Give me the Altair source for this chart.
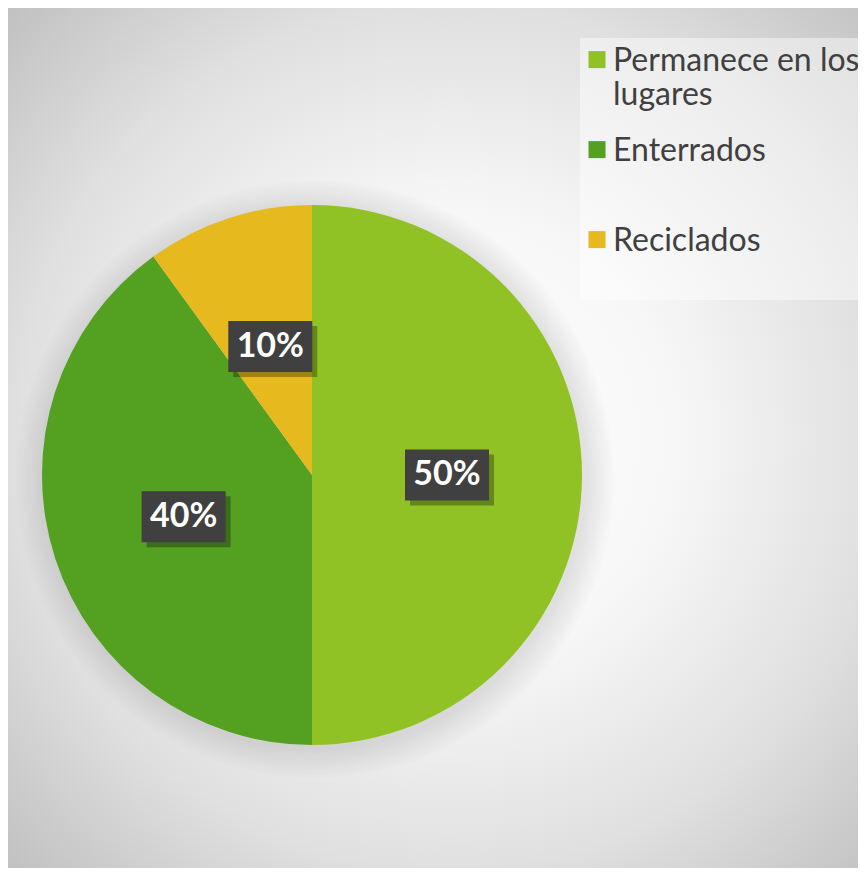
import math
import altair as alt
import pandas as pd

# ---- data ----
categories = ["Permanece en los lugares", "Enterrados", "Reciclados"]
values = [50, 40, 10]
colors = ["#90C226", "#54A021", "#E6B91E"]

# ---- layout ----
W, H = 850, 860
CX, CY, R = 304, 467, 270
BOX_W, BOX_H = 84, 51
FONT = "Lato"

df = pd.DataFrame({"cat": categories, "v": values, "ord": list(range(len(values)))})
one = pd.DataFrame({"a": [0]})

bg_grad = {
    "gradient": "radial",
    "x1": 0.52, "y1": 0.5, "r1": 0,
    "x2": 0.52, "y2": 0.5, "r2": 0.75,
    "stops": [
        {"offset": 0, "color": "#ffffff"},
        {"offset": 0.35, "color": "#f7f7f7"},
        {"offset": 0.667, "color": "#e0e0e0"},
        {"offset": 1, "color": "#bcbcbc"},
    ],
}
bg = alt.Chart(one).mark_rect(fill=bg_grad).encode(
    x=alt.value(0), x2=alt.value(W), y=alt.value(0), y2=alt.value(H)
)

# legend background panel
legend_panel = alt.Chart(one).mark_rect(fill="rgba(255,255,255,0.45)").encode(
    x=alt.value(572), x2=alt.value(W), y=alt.value(30), y2=alt.value(292)
)

halo_grad = {
    "gradient": "radial",
    "x1": 0.5, "y1": 0.5, "r1": 0,
    "x2": 0.5, "y2": 0.5, "r2": 0.5,
    "stops": [
        {"offset": 0, "color": "rgba(0,0,0,0.12)"},
        {"offset": 0.9, "color": "rgba(0,0,0,0.10)"},
        {"offset": 1, "color": "rgba(0,0,0,0)"},
    ],
}
halo = alt.Chart(one).mark_arc(radius=300, theta=0, theta2=2 * math.pi, fill=halo_grad).encode(
    x=alt.value(CX + 3), y=alt.value(CY + 4)
)

sym = "M-1,0.6L1,0.6L1,2.6L-1,2.6Z"
legend = alt.Legend(
    title=None, orient="none", legendX=573, legendY=22,
    symbolType=sym, symbolSize=289, symbolStrokeWidth=0,
    labelFont=FONT, labelFontSize=32, labelColor="#404040",
    labelLimit=600, labelOffset=0, labelBaseline="top",
    rowPadding=9, padding=0,
    labelExpr="datum.label == 'Permanece en los lugares' ? ['Permanece en los', 'lugares'] : [datum.label, '']",
)

pie = alt.Chart(df).mark_arc(radius=R, stroke=None).encode(
    theta=alt.Theta("v:Q", stack=True),
    color=alt.Color("cat:N", scale=alt.Scale(domain=categories, range=colors), legend=legend, sort=categories),
    order=alt.Order("ord:Q"),
    x=alt.value(CX), y=alt.value(CY),
)

lab = alt.Chart(df).transform_window(
    cum="sum(v)", sort=[alt.SortField("ord")]
).transform_joinaggregate(total="sum(v)").transform_calculate(
    mid="(datum.cum - datum.v/2) / datum.total * 2 * PI",
    lx=f"{CX} + {R/2} * sin(datum.mid)",
    ly=f"{CY} - {R/2} * cos(datum.mid)",
    x1=f"datum.lx - {BOX_W/2}", x2=f"datum.lx + {BOX_W/2}",
    y1=f"datum.ly - {BOX_H/2}", y2=f"datum.ly + {BOX_H/2}",
    sx1="datum.x1 + 5", sx2="datum.x2 + 5", sy1="datum.y1 + 5", sy2="datum.y2 + 5",
    txt="datum.v + '%'",
)

shadow = lab.mark_rect(color="#000000", opacity=0.3).encode(
    x=alt.X("sx1:Q", scale=None, axis=None), x2="sx2:Q",
    y=alt.Y("sy1:Q", scale=None, axis=None), y2="sy2:Q",
)
boxes = lab.mark_rect(color="#404040").encode(
    x=alt.X("x1:Q", scale=None, axis=None), x2="x2:Q",
    y=alt.Y("y1:Q", scale=None, axis=None), y2="y2:Q",
)
texts = lab.mark_text(font=FONT, fontSize=34, fontWeight="bold", color="#ffffff", baseline="middle").encode(
    x=alt.X("lx:Q", scale=None, axis=None),
    y=alt.Y("ly:Q", scale=None, axis=None),
    text="txt:N",
)

chart = alt.layer(bg, legend_panel, halo, pie, shadow, boxes, texts).properties(
    width=W, height=H, padding=0, autosize="none"
).configure_view(stroke=None)

chart.save("out.html", embed_options={"renderer": "svg", "actions": False})
